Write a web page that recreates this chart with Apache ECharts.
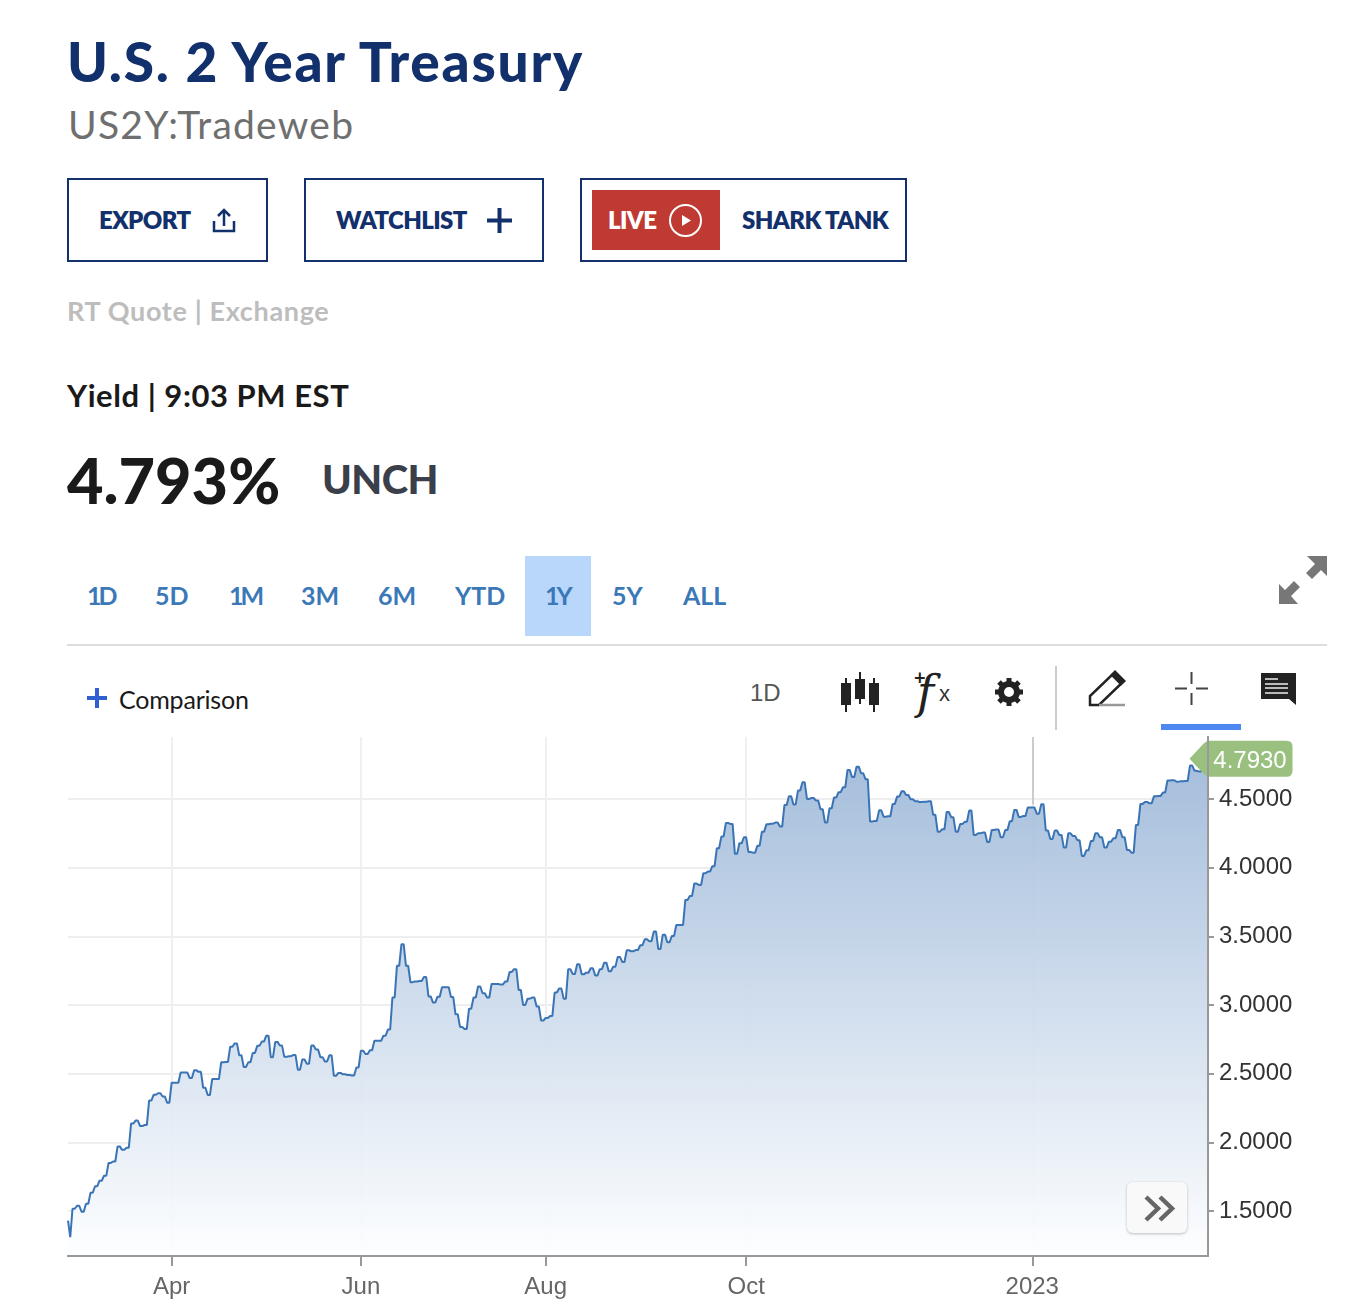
<!DOCTYPE html>
<html>
<head>
<meta charset="utf-8">
<title>U.S. 2 Year Treasury</title>
<script src="https://cdn.jsdelivr.net/npm/echarts@6/dist/echarts.min.js"></script>
<style>
  html, body { margin: 0; padding: 0; background: #fff; }
  #page { position: relative; width: 1366px; height: 1306px; overflow: hidden; font-family: Lato, "Open Sans", sans-serif; }
  .t { position: absolute; white-space: nowrap; transform: translateY(-50%); line-height: 1; }
  .box { position: absolute; box-sizing: border-box; border: 2px solid #12306b; }
  .navy { color: #12306b; font-weight: 800; font-size: 24px; letter-spacing: -.6px; }
  .range { color: #3b78b8; font-size: 25px; font-weight: 700; top: 595px; }
  .one { letter-spacing: -3px; }
  svg { position: absolute; overflow: visible; }
  #chart { position: absolute; left: 0; top: 730px; width: 1366px; height: 576px; }
  #scroll { position: absolute; left: 1127px; top: 1182px; width: 60px; height: 51px; background: #f9f9f9; border-radius: 6px; box-shadow: 0 1px 3px rgba(0,0,0,.25); }
</style>
</head>
<body>
<div id="page">
  <div class="t" style="left:67px;top:61px;font-size:55px;font-weight:900;color:#12306b;letter-spacing:1.75px">U.S. 2 Year Treasury</div>
  <div class="t" style="left:68px;top:124px;font-size:39px;color:#6f6f6f;letter-spacing:1.25px">US2Y:Tradeweb</div>

  <div class="box" style="left:67px;top:178px;width:201px;height:84px"></div>
  <div class="t navy" style="left:99px;top:220px">EXPORT</div>
  <svg style="left:212px;top:208px" width="24" height="26" fill="none" stroke="#12306b" stroke-width="2.5">
    <path d="M12 18V2M6 8l6-6 6 6M2 13v10h20V13"/>
  </svg>
  <div class="box" style="left:304px;top:178px;width:240px;height:84px"></div>
  <div class="t navy" style="left:336px;top:220px">WATCHLIST</div>
  <svg style="left:487px;top:208px" width="25" height="25" fill="none" stroke="#12306b" stroke-width="4">
    <path d="M12.5 0v25M0 12.5h25"/>
  </svg>
  <div class="box" style="left:580px;top:178px;width:327px;height:84px"></div>
  <div style="position:absolute;left:592px;top:190px;width:128px;height:60px;background:#bf3a33"></div>
  <div class="t navy" style="left:608px;top:220px;color:#fff">LIVE</div>
  <svg style="left:669px;top:204px" width="33" height="33" fill="none" stroke="#fff" stroke-width="2">
    <circle cx="16.5" cy="16.5" r="15.5"/><path d="M13 11l9 5.5-9 5.5z" fill="#fff" stroke="none"/>
  </svg>
  <div class="t navy" style="left:742px;top:220px">SHARK TANK</div>

  <div class="t" style="left:67px;top:310px;font-size:27px;font-weight:700;color:#bdbdbd;letter-spacing:.65px">RT Quote | Exchange</div>
  <div class="t" style="left:67px;top:395px;font-size:31px;font-weight:700;color:#1a1a1a;letter-spacing:.55px">Yield | 9:03 PM EST</div>
  <div class="t" style="left:67px;top:479px;font-size:63px;font-weight:900;color:#1a1a1a">4.793%</div>
  <div class="t" style="left:322px;top:479px;font-size:40px;font-weight:900;color:#3a3f4a;letter-spacing:-.5px">UNCH</div>

  <div style="position:absolute;left:525px;top:556px;width:66px;height:80px;background:#b9d6fb"></div>
  <div class="t range one" style="left:87px">1D</div>
  <div class="t range" style="left:155px">5D</div>
  <div class="t range one" style="left:229px">1M</div>
  <div class="t range" style="left:301px">3M</div>
  <div class="t range" style="left:378px">6M</div>
  <div class="t range" style="left:455px">YTD</div>
  <div class="t range one" style="left:545px">1Y</div>
  <div class="t range" style="left:612px">5Y</div>
  <div class="t range" style="left:683px">ALL</div>
  <svg style="left:1278px;top:556px" width="50" height="49" fill="#777" stroke="none">
    <path d="M29 0h20v20l-6-6-9 9-6-6 9-9z"/>
    <path d="M20 48H1V28l6 6 9-9 6 6-9 9z"/>
  </svg>
  <div style="position:absolute;left:67px;top:644px;width:1260px;height:2px;background:#ddd"></div>

  <svg style="left:87px;top:688px" width="20" height="20" fill="none" stroke="#2f5fd0" stroke-width="4">
    <path d="M10 0v20M0 10h20"/>
  </svg>
  <div class="t" style="left:119px;top:699px;font-size:25px;color:#1a1a1a;letter-spacing:-.2px">Comparison</div>
  <div class="t" style="left:750px;top:693px;font-size:24px;color:#555;font-family:'Liberation Sans'">1D</div>
  <svg style="left:841px;top:672px" width="40" height="40" fill="#222" stroke="#222" stroke-width="2">
    <path d="M5 6v34M19 0v32M33 6v34" fill="none"/>
    <rect x="1" y="12" width="8" height="20"/><rect x="15" y="8" width="8" height="18"/><rect x="29" y="12" width="8" height="20"/>
  </svg>
  <div class="t" style="left:914px;top:677px;font-size:20px;font-weight:700;color:#222">+</div>
  <div class="t" style="left:917px;top:692px;font-size:46px;font-style:italic;font-family:'DejaVu Serif';color:#222">f</div>
  <div class="t" style="left:939px;top:694px;font-size:22px;color:#333;font-family:'Liberation Sans'">x</div>
  <svg style="left:995px;top:678px" width="28" height="28" fill="none" stroke="#222">
    <circle cx="14" cy="14" r="8" stroke-width="6"/>
    <path d="M14 0v6M14 22v6M0 14h6M22 14h6M4 4l4 4M20 20l4 4M24 4l-4 4M8 20l-4 4" stroke-width="5"/>
  </svg>
  <div style="position:absolute;left:1055px;top:666px;width:2px;height:64px;background:#ccc"></div>
  <svg style="left:1088px;top:670px" width="38" height="36" fill="none" stroke="#222" stroke-width="2.5">
    <path d="M2 35V26L27 2l9 9-25 24zM25 4l9 9" /><path d="M27 2l9 9-3 3-9-9z" fill="#222"/><path d="M11 35h26" stroke="#999"/>
  </svg>
  <svg style="left:1175px;top:672px" width="33" height="33" fill="none" stroke="#444" stroke-width="2">
    <path d="M16.5 0v12M16.5 21v12M0 16.5h12M21 16.5h12"/>
  </svg>
  <div style="position:absolute;left:1161px;top:724px;width:80px;height:6px;background:#4d87f0"></div>
  <svg style="left:1261px;top:673px" width="35" height="32" fill="#222">
    <path d="M0 0h35v32l-7-6H0z"/>
    <path d="M4 6h13M4 11h23M4 15h23M4 20h23" stroke="#bbb" stroke-width="2"/>
  </svg>

  <div id="chart"></div>
  <div id="scroll">
    <svg style="left:17px;top:13px" width="30" height="27" fill="none" stroke="#666" stroke-width="4.5">
      <path d="M2 2l12 11.5L2 25M16 2l12 11.5L16 25"/>
    </svg>
  </div>
</div>

<script>
// first two prints of the window, before the daily levels start
const openingPrints = [1.43, 1.31];

// daily yield levels
const dailyYields = [
  1.516, 1.537, 1.495, 1.553, 1.633, 1.680, 1.720, 1.757, 1.850, 1.860,
  1.970, 1.945, 1.960, 2.136, 2.158, 2.118, 2.126, 2.304, 2.346, 2.357,
  2.333, 2.288, 2.434, 2.434, 2.508, 2.508, 2.468, 2.524, 2.513, 2.397,
  2.344, 2.460, 2.460, 2.582, 2.585, 2.696, 2.720, 2.633, 2.548, 2.582,
  2.651, 2.702, 2.733, 2.776, 2.620, 2.731, 2.704, 2.622, 2.627, 2.635,
  2.529, 2.603, 2.572, 2.704, 2.675, 2.620, 2.588, 2.633, 2.484, 2.505,
  2.495, 2.490, 2.487, 2.545, 2.667, 2.643, 2.670, 2.739, 2.739, 2.776,
  2.821, 3.054, 3.285, 3.442, 3.285, 3.166, 3.171, 3.174, 3.203, 3.062,
  3.017, 3.060, 3.129, 3.129, 3.057, 2.932, 2.840, 2.825, 2.973, 3.054,
  3.134, 3.085, 3.054, 3.153, 3.153, 3.148, 3.170, 3.240, 3.260, 3.109,
  3.000, 3.046, 3.054, 2.988, 2.886, 2.905, 2.920, 3.090, 3.119, 3.046,
  3.260, 3.226, 3.296, 3.223, 3.235, 3.267, 3.214, 3.260, 3.308, 3.245,
  3.279, 3.350, 3.313, 3.398, 3.391, 3.400, 3.435, 3.478, 3.464, 3.534,
  3.408, 3.512, 3.456, 3.502, 3.582, 3.582, 3.765, 3.794, 3.884, 3.874,
  3.959, 3.971, 4.010, 4.141, 4.226, 4.325, 4.318, 4.100, 4.177, 4.221,
  4.114, 4.109, 4.160, 4.262, 4.316, 4.320, 4.328, 4.299, 4.456, 4.520,
  4.460, 4.561, 4.621, 4.500, 4.507, 4.488, 4.425, 4.328, 4.432, 4.510,
  4.549, 4.585, 4.711, 4.660, 4.735, 4.687, 4.643, 4.335, 4.340, 4.417,
  4.371, 4.374, 4.464, 4.517, 4.556, 4.529, 4.498, 4.483, 4.478, 4.480,
  4.483, 4.384, 4.262, 4.279, 4.405, 4.367, 4.262, 4.318, 4.333, 4.415,
  4.238, 4.250, 4.255, 4.187, 4.274, 4.277, 4.221, 4.274, 4.337, 4.420,
  4.369, 4.376, 4.437, 4.437, 4.393, 4.461, 4.270, 4.209, 4.270, 4.238,
  4.146, 4.250, 4.230, 4.200, 4.085, 4.126, 4.194, 4.250, 4.221, 4.146,
  4.189, 4.214, 4.274, 4.221, 4.129, 4.109, 4.311, 4.464, 4.478, 4.468,
  4.519, 4.522, 4.546, 4.634, 4.636, 4.626, 4.629, 4.631, 4.743, 4.706,
  4.699, 4.793
];

const lastPrice = 4.793;
const tickIndex = [46, 130, 212, 301, 428];
const tickLabels = ['Apr', 'Jun', 'Aug', 'Oct', '2023'];
const yTicks = [1.5, 2, 2.5, 3, 3.5, 4, 4.5];
const axisMin = 1.172;
const axisMax = 4.951;

// each day is held for half a step and then moves to the next level
const yields = openingPrints.concat(dailyYields.flatMap(v => [v, v]), lastPrice);
const categories = yields.map((_, i) => {
  const k = tickIndex.indexOf(i);
  return k >= 0 ? tickLabels[k] : '';
});
const onTick = (i) => tickIndex.includes(i);
const axisColor = { color: '#999', width: 2 };

const chart = echarts.init(document.getElementById('chart'));
chart.setOption({
  animation: false,
  textStyle: { fontFamily: 'Liberation Sans' },
  grid: { left: 68, right: 158, top: 7, bottom: 50 },
  xAxis: [{
    type: 'category',
    boundaryGap: false,
    data: categories,
    axisLine: { lineStyle: axisColor },
    axisTick: { interval: onTick, length: 10, lineStyle: axisColor },
    axisLabel: { interval: onTick, color: '#666', fontSize: 24, margin: 19, hideOverlap: false },
    splitLine: { show: true, interval: onTick, lineStyle: { color: '#f0f0f0', width: 2 } }
  }, {
    // second copy only to keep the axis line above the area fill
    type: 'category',
    position: 'bottom',
    boundaryGap: false,
    data: categories,
    z: 5,
    axisLine: { onZero: false, lineStyle: axisColor },
    axisTick: { show: false },
    axisLabel: { show: false },
    splitLine: { show: false }
  }],
  yAxis: [{
    type: 'value',
    position: 'right',
    min: axisMin,
    max: axisMax,
    axisLine: { show: true, lineStyle: axisColor },
    axisTick: { show: true, customValues: yTicks, length: 6, lineStyle: axisColor },
    axisLabel: {
      customValues: yTicks,
      color: '#333',
      fontSize: 24,
      margin: 11,
      padding: [4, 0, 0, 0],
      formatter: (v) => v.toFixed(4)
    },
    splitLine: { show: true, lineStyle: { color: '#eeeeee', width: 2 } }
  }, {
    type: 'value',
    position: 'right',
    min: axisMin,
    max: axisMax,
    z: 5,
    axisLine: { show: true, lineStyle: axisColor },
    axisTick: { show: false },
    axisLabel: { show: false },
    splitLine: { show: false }
  }],
  series: [{
    type: 'line',
    data: yields,
    symbol: 'none',
    lineStyle: { color: '#3a74b5', width: 2 },
    areaStyle: {
      opacity: 1,
      color: new echarts.graphic.LinearGradient(0, 0, 0, 1, [
        { offset: 0, color: 'rgba(158,185,217,0.93)' },
        { offset: 1, color: 'rgba(253,254,255,0.93)' }
      ])
    },
    markLine: {
      silent: true,
      symbol: 'none',
      label: { show: false },
      lineStyle: { color: '#cccccc', width: 2, type: 'solid' },
      data: [[{ coord: [428, axisMax] }, { coord: [428, 4.46] }]]
    },
    markPoint: {
      silent: true,
      symbol: 'path://M0,18 L14,3 Q17,0 20,0 H97 Q103,0 103,6 V30 Q103,36 97,36 H20 Q17,36 14,33 Z',
      symbolSize: [103, 36],
      symbolKeepAspect: false,
      symbolOffset: [33, 0],
      itemStyle: { color: '#9ac07f' },
      label: {
        show: true,
        position: 'inside',
        offset: [9, 3],
        color: '#fff',
        fontSize: 24,
        formatter: (p) => p.value.toFixed(4)
      },
      data: [{ coord: [yields.length - 1, lastPrice], value: lastPrice }]
    }
  }]
});
</script>
</body>
</html>
